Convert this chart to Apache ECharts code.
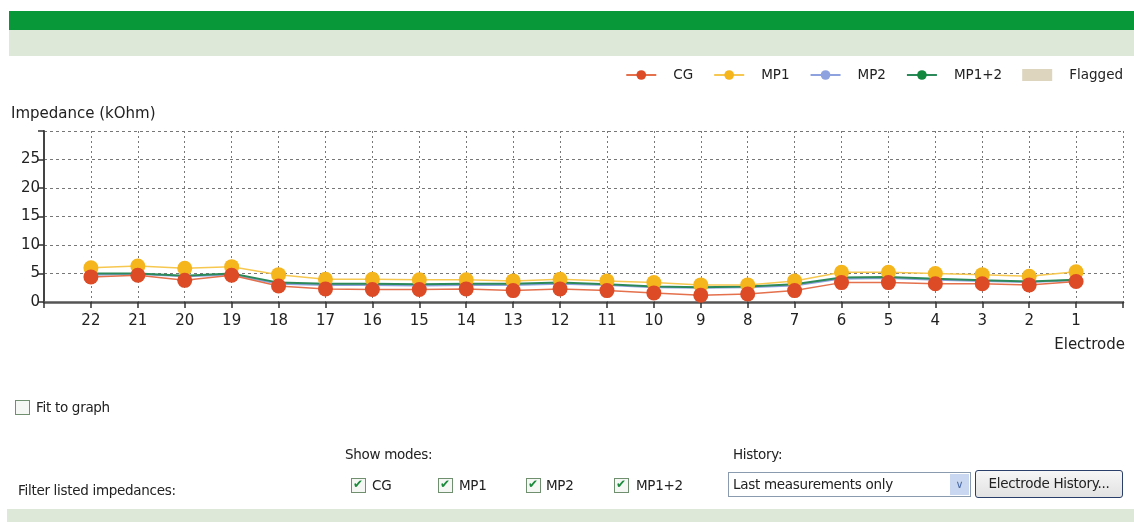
<!DOCTYPE html>
<html>
<head>
<meta charset="utf-8">
<script src="https://cdn.jsdelivr.net/npm/echarts@6/dist/echarts.min.js"></script>
<style>
  body { margin: 0; background: #fff; font-family: "DejaVu Sans", sans-serif; color: #222; }
  #page { position: relative; width: 1134px; height: 522px; overflow: hidden; }
  #chart { position: absolute; left: 0; top: 0; width: 1134px; height: 522px; }
  .bar-dark { position: absolute; left: 9px; top: 11px; width: 1125px; height: 19px; background: #08983a; }
  .bar-light { position: absolute; left: 9px; top: 30px; width: 1125px; height: 26px; background: #dde8d8; }
  .bar-bottom { position: absolute; left: 7px; top: 509px; width: 1127px; height: 13px; background: #dde8d8; }
  .txt { position: absolute; font-size: 13.5px; white-space: nowrap; letter-spacing: -0.3px; }
  .cb { position: absolute; width: 13px; height: 13px; border: 1px solid #6f8f6f; background: #f4f7f4; box-sizing: content-box; }
  .cb.on::after { content: "\2714"; position: absolute; left: 1px; top: -2px; font-size: 12px; color: #1a8a3a; }
  .combo { position: absolute; left: 728px; top: 472px; width: 241px; height: 23px; border: 1px solid #8a9bb0; background: #fff; }
  .combo .arrow { position: absolute; right: 1px; top: 1px; width: 19px; height: 21px; background: #c9d8f0; color: #4a6aa8; font-size: 11px; text-align: center; line-height: 21px; }
  .btn { position: absolute; left: 975px; top: 470px; width: 146px; height: 26px; border: 1px solid #2a3f6a; border-radius: 3px; background: linear-gradient(#f6f6f6, #e2e2e2); font-size: 13.5px; line-height: 25px; text-align: center; letter-spacing: -0.3px; }
</style>
</head>
<body>
<div id="page">
  <div class="bar-dark"></div>
  <div class="bar-light"></div>
  <div id="chart"></div>

  <div class="cb" style="left:15px; top:400px;"></div>
  <div class="txt" style="left:36px; top:399px;">Fit to graph</div>

  <div class="txt" style="left:345px; top:446px;">Show modes:</div>
  <div class="txt" style="left:18px; top:482px;">Filter listed impedances:</div>

  <div class="cb on" style="left:351px; top:478px;"></div>
  <div class="txt" style="left:372px; top:477px;">CG</div>
  <div class="cb on" style="left:438px; top:478px;"></div>
  <div class="txt" style="left:459px; top:477px;">MP1</div>
  <div class="cb on" style="left:526px; top:478px;"></div>
  <div class="txt" style="left:546px; top:477px;">MP2</div>
  <div class="cb on" style="left:614px; top:478px;"></div>
  <div class="txt" style="left:636px; top:477px;">MP1+2</div>

  <div class="txt" style="left:733px; top:446px;">History:</div>
  <div class="combo">
    <div class="txt" style="left:4px; top:3px;">Last measurements only</div>
    <div class="arrow">&#8744;</div>
  </div>
  <div class="btn">Electrode History...</div>

  <div class="bar-bottom"></div>
</div>
<script>
// electrode numbers, left to right
var electrodes = ['22', '21', '20', '19', '18', '17', '16', '15', '14', '13', '12',
                  '11', '10', '9', '8', '7', '6', '5', '4', '3', '2', '1'];

// impedance per mode (kOhm)
var cg   = [4.4, 4.7, 3.8, 4.7, 2.8, 2.3, 2.2, 2.2, 2.3, 2.0, 2.3, 2.0, 1.6, 1.2, 1.4, 2.0, 3.4, 3.4, 3.2, 3.2, 3.0, 3.6];
var mp1  = [6.0, 6.3, 5.9, 6.2, 4.8, 4.0, 4.0, 3.9, 3.9, 3.7, 4.0, 3.7, 3.4, 3.0, 3.0, 3.7, 5.2, 5.2, 5.0, 4.8, 4.5, 5.3];
var mp2  = [4.8, 4.9, 4.5, 4.8, 3.2, 3.0, 3.0, 2.9, 3.0, 3.0, 3.2, 3.0, 2.6, 2.5, 2.6, 2.9, 4.1, 4.2, 3.9, 3.7, 3.5, 3.8];
var mp12 = [5.0, 5.0, 4.6, 5.0, 3.4, 3.2, 3.2, 3.1, 3.2, 3.2, 3.4, 3.1, 2.7, 2.6, 2.7, 3.1, 4.3, 4.4, 4.1, 3.8, 3.6, 3.9];

// y axis ticks
var yTicks = [0, 5, 10, 15, 20, 25];

function pairs(values) {
  return values.map(function (v, i) { return [i, v]; });
}

var chartDom = document.getElementById('chart');
var myChart = echarts.init(chartDom);
var font = 'DejaVu Sans';
var option;

option = {
  animation: false,
  textStyle: { fontFamily: font },
  title: {
    text: 'Impedance (kOhm)',
    left: 6,
    top: 102,
    textStyle: { fontFamily: font, fontSize: 15, fontWeight: 'normal', color: '#222' }
  },
  legend: {
    right: 6,
    top: 63,
    itemWidth: 30,
    itemHeight: 12,
    itemGap: 20,
    textStyle: { fontFamily: font, fontSize: 13.5, color: '#222', padding: [0, 0, 0, 12] },
    data: [
      { name: 'CG' },
      { name: 'MP1' },
      { name: 'MP2' },
      { name: 'MP1+2' },
      { name: 'Flagged', icon: 'rect' }
    ]
  },
  grid: { left: 44, right: 11, top: 131, bottom: 220 },
  xAxis: {
    type: 'value',
    min: -1,
    max: electrodes.length,
    interval: 1,
    name: 'Electrode',
    nameLocation: 'end',
    nameGap: 2,
    nameTextStyle: { fontFamily: font, fontSize: 15, color: '#222', align: 'right', verticalAlign: 'top', padding: [36, 0, 0, 0] },
    axisLine: { lineStyle: { color: '#555', width: 2.5 } },
    axisTick: { length: 6, lineStyle: { color: '#333', width: 1.5 } },
    axisLabel: {
      fontSize: 15, color: '#222', margin: 12,
      formatter: function (v) { return electrodes[v] || ''; }
    },
    splitLine: { show: true, lineStyle: { color: '#777', type: [2, 3], width: 1 } }
  },
  yAxis: {
    type: 'value',
    min: 0,
    max: 30,
    interval: 5,
    axisLine: { show: true, onZero: false, lineStyle: { color: '#444', width: 2 } },
    axisTick: { show: true, length: 6, lineStyle: { color: '#333', width: 1.5 } },
    axisLabel: {
      fontSize: 15, color: '#222', margin: 4,
      formatter: function (v) { return yTicks.indexOf(v) >= 0 ? String(v) : ''; }
    },
    splitLine: { show: true, lineStyle: { color: '#777', type: [3, 3], width: 1 } }
  },
  series: [
    {
      name: 'MP2', type: 'line', data: pairs(mp2),
      symbol: 'circle', symbolSize: 8,
      itemStyle: { color: '#8fa2e0' },
      lineStyle: { width: 2, color: '#8fa2e0' }
    },
    {
      name: 'MP1+2', type: 'line', data: pairs(mp12),
      symbol: 'circle', symbolSize: 8,
      itemStyle: { color: '#11883e' },
      lineStyle: { width: 2, color: '#2c8a5a' }
    },
    {
      name: 'MP1', type: 'line', data: pairs(mp1),
      symbol: 'circle', symbolSize: 15,
      itemStyle: { color: '#f5b51c' },
      lineStyle: { width: 1.5, color: '#f7c850' }
    },
    {
      name: 'CG', type: 'line', data: pairs(cg),
      symbol: 'circle', symbolSize: 15,
      itemStyle: { color: '#dc4a26' },
      lineStyle: { width: 1.5, color: '#e4704c' }
    },
    {
      name: 'Flagged', type: 'line', data: [],
      itemStyle: { color: '#ddd5be' }
    }
  ]
};

option && myChart.setOption(option);
</script>
</body>
</html>
